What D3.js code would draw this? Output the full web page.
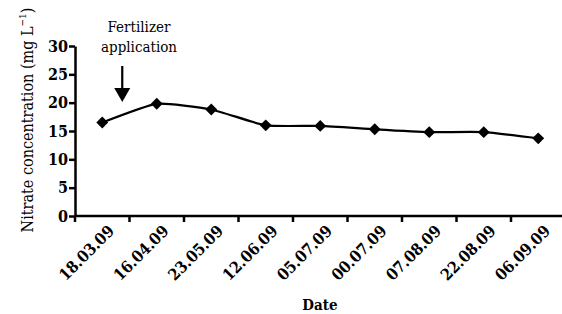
<!DOCTYPE html>
<html>
<head>
<meta charset="utf-8">
<script src="https://cdn.jsdelivr.net/npm/d3@7"></script>
</head>
<body style="margin:0;background:#fff">
<svg id="chart" style="display:block"></svg>
<script>
// sampling dates (as printed on the axis)
var dates = ["18.03.09", "16.04.09", "23.05.09", "12.06.09", "05.07.09",
             "00.07.09", "07.08.09", "22.08.09", "06.09.09"];
// nitrate concentration, mg L-1
var nitrate = [16.5, 19.8, 18.8, 16.0, 15.9, 15.3, 14.8, 14.8, 13.7];
var yTicks = [0, 5, 10, 15, 20, 25, 30];

var svgWidth = 562, svgHeight = 314;
var margin = {top: 46, left: 75, bottom: 98};
var serif = "'DejaVu Serif Condensed', 'DejaVu Serif', serif";

var svg = d3.select("#chart")
    .attr("width", svgWidth)
    .attr("height", svgHeight);

// scales
var xScale = d3.scaleBand()
    .domain(dates)
    .range([margin.left, margin.left + 9 * 54.5]);

var yScale = d3.scaleLinear()
    .domain([0, 30])
    .range([svgHeight - margin.bottom, margin.top]);

// y axis
var yAxis = svg.append("g")
    .attr("transform", "translate(" + margin.left + ",0)")
    .call(d3.axisLeft(yScale).tickValues(yTicks).tickSize(6).tickPadding(1).tickSizeOuter(0));
yAxis.attr("font-family", null);
yAxis.select(".domain").attr("stroke-width", 2.5);
yAxis.selectAll(".tick line").attr("stroke-width", 2.5);
yAxis.selectAll("text")
    .style("font-family", serif)
    .style("font-stretch", "condensed")
    .attr("font-size", 16)
    .attr("font-weight", "bold");

// x axis, ticks between categories
var xAxis = svg.append("g")
    .attr("transform", "translate(0," + yScale(0) + ")");
xAxis.append("line")
    .attr("x1", margin.left).attr("x2", svgWidth)
    .attr("y1", 0).attr("y2", 0)
    .attr("stroke", "#000").attr("stroke-width", 2.5);
xAxis.selectAll(".xtick")
    .data(dates)
    .enter()
    .append("line")
    .attr("class", "xtick")
    .attr("x1", function(d) { return xScale(d); })
    .attr("x2", function(d) { return xScale(d); })
    .attr("y1", 0).attr("y2", 6)
    .attr("stroke", "#000").attr("stroke-width", 2.5);
xAxis.selectAll(".xlabel")
    .data(dates)
    .enter()
    .append("text")
    .attr("class", "xlabel")
    .attr("text-anchor", "end")
    .attr("transform", function(d) {
      return "translate(" + (xScale(d) + xScale.bandwidth() / 2 + 13) + ",16) rotate(-45)";
    })
    .style("font-family", serif)
    .style("font-stretch", "condensed")
    .attr("font-size", 16)
    .attr("font-weight", "bold")
    .text(function(d) { return d; });

// line
var line = d3.line()
    .x(function(d, i) { return xScale(dates[i]) + xScale.bandwidth() / 2; })
    .y(function(d) { return yScale(d); })
    .curve(d3.curveCardinal.tension(0.5));

svg.append("path")
    .datum(nitrate)
    .attr("d", line)
    .attr("fill", "none")
    .attr("stroke", "#000")
    .attr("stroke-width", 2.2);

// diamond markers
svg.selectAll(".pt")
    .data(nitrate)
    .enter()
    .append("path")
    .attr("class", "pt")
    .attr("d", d3.symbol().type(d3.symbolDiamond2).size(90))
    .attr("transform", function(d, i) {
      return "translate(" + (xScale(dates[i]) + xScale.bandwidth() / 2) + "," + yScale(d) + ")";
    })
    .attr("fill", "#000");

// axis titles
var ytitle = svg.append("text")
    .attr("transform", "translate(33,120) rotate(-90)")
    .attr("text-anchor", "middle")
    .style("font-family", serif)
    .style("font-stretch", "condensed")
    .attr("font-size", 16);
ytitle.append("tspan").text("Nitrate concentration (mg L");
ytitle.append("tspan").attr("dy", -7).attr("font-size", 10).text("\u22121");
ytitle.append("tspan").attr("dy", 7).text(")");

svg.append("text")
    .attr("x", 320)
    .attr("y", 310)
    .attr("text-anchor", "middle")
    .style("font-family", serif)
    .style("font-stretch", "condensed")
    .attr("font-size", 15)
    .attr("font-weight", "bold")
    .text("Date");

// annotation
svg.selectAll(".note")
    .data(["Fertilizer", "application"])
    .enter()
    .append("text")
    .attr("class", "note")
    .attr("x", 139)
    .attr("y", function(d, i) { return 32 + i * 20; })
    .attr("text-anchor", "middle")
    .style("font-family", serif)
    .style("font-stretch", "condensed")
    .attr("font-size", 15)
    .text(function(d) { return d; });

var ax = xScale(dates[0]) + xScale.bandwidth() / 2 + 20;
svg.append("line")
    .attr("x1", ax).attr("x2", ax)
    .attr("y1", 66).attr("y2", 90)
    .attr("stroke", "#000").attr("stroke-width", 2.2);
svg.append("path")
    .attr("d", "M" + (ax - 8) + ",88L" + (ax + 8) + ",88L" + ax + ",102Z")
    .attr("fill", "#000");
</script>
</body>
</html>
